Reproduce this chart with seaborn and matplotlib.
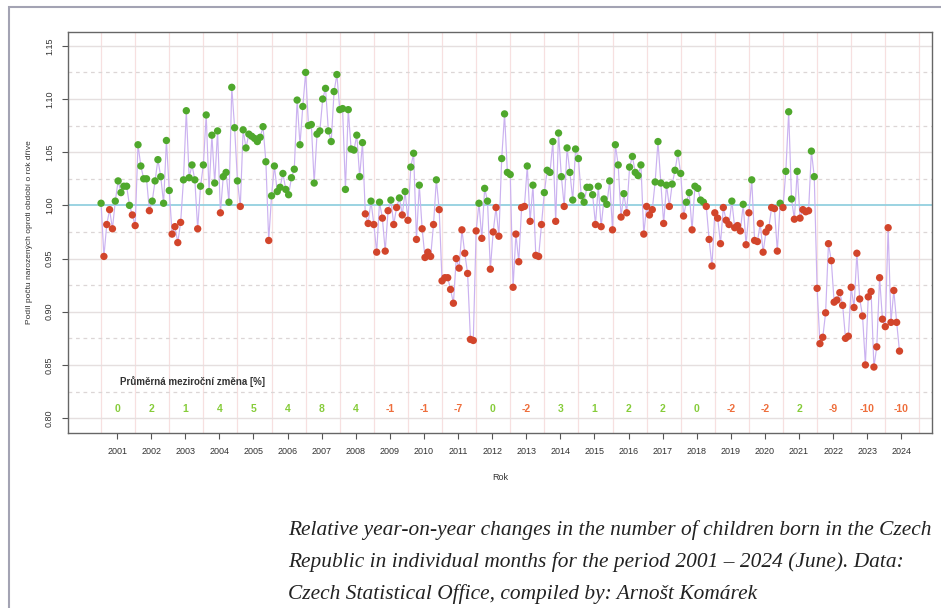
import numpy as np
import pandas as pd
import seaborn as sns
import matplotlib.pyplot as plt
from matplotlib.patches import Rectangle

# mesicni podil poctu narozenych oproti stejnemu mesici o rok drive
y2001 = [1.002, 0.952, 0.982, 0.996, 0.978, 1.004, 1.023, 1.012, 1.018, 1.018, 1.000, 0.991]
y2002 = [0.981, 1.057, 1.037, 1.025, 1.025, 0.995, 1.004, 1.023, 1.043, 1.027, 1.002, 1.061]
y2003 = [1.014, 0.973, 0.980, 0.965, 0.984, 1.024, 1.089, 1.026, 1.038, 1.024, 0.978, 1.018]
y2004 = [1.038, 1.085, 1.013, 1.066, 1.021, 1.070, 0.993, 1.027, 1.031, 1.003, 1.111, 1.073]
y2005 = [1.023, 0.999, 1.071, 1.054, 1.067, 1.065, 1.063, 1.060, 1.064, 1.074, 1.041, 0.967]
y2006 = [1.009, 1.037, 1.013, 1.017, 1.030, 1.015, 1.010, 1.026, 1.034, 1.099, 1.057, 1.093]
y2007 = [1.125, 1.075, 1.076, 1.021, 1.067, 1.070, 1.100, 1.110, 1.070, 1.060, 1.107, 1.123]
y2008 = [1.090, 1.091, 1.015, 1.090, 1.053, 1.052, 1.066, 1.027, 1.059, 0.992, 0.983, 1.004]
y2009 = [0.982, 0.956, 1.003, 0.988, 0.957, 0.995, 1.005, 0.982, 0.998, 1.007, 0.991, 1.013]
y2010 = [0.986, 1.036, 1.049, 0.968, 1.019, 0.978, 0.951, 0.956, 0.952, 0.982, 1.024, 0.996]
y2011 = [0.929, 0.932, 0.932, 0.921, 0.908, 0.950, 0.941, 0.977, 0.955, 0.936, 0.874, 0.873]
y2012 = [0.976, 1.002, 0.969, 1.016, 1.004, 0.940, 0.975, 0.998, 0.971, 1.044, 1.086, 1.031]
y2013 = [1.029, 0.923, 0.973, 0.947, 0.998, 0.999, 1.037, 0.985, 1.019, 0.953, 0.952, 0.982]
y2014 = [1.012, 1.033, 1.031, 1.060, 0.985, 1.068, 1.027, 0.999, 1.054, 1.031, 1.005, 1.053]
y2015 = [1.044, 1.009, 1.003, 1.017, 1.017, 1.010, 0.982, 1.018, 0.980, 1.006, 1.001, 1.023]
y2016 = [0.977, 1.057, 1.038, 0.989, 1.011, 0.993, 1.036, 1.046, 1.031, 1.028, 1.038, 0.973]
y2017 = [0.999, 0.991, 0.996, 1.022, 1.060, 1.021, 0.983, 1.019, 0.999, 1.020, 1.033, 1.049]
y2018 = [1.030, 0.990, 1.003, 1.012, 0.977, 1.018, 1.016, 1.005, 1.003, 0.999, 0.968, 0.943]
y2019 = [0.993, 0.988, 0.964, 0.998, 0.986, 0.982, 1.004, 0.979, 0.981, 0.976, 1.001, 0.963]
y2020 = [0.993, 1.024, 0.967, 0.966, 0.983, 0.956, 0.975, 0.979, 0.998, 0.997, 0.957, 1.002]
y2021 = [0.998, 1.032, 1.088, 1.006, 0.987, 1.032, 0.988, 0.996, 0.994, 0.995, 1.051, 1.027]
y2022 = [0.922, 0.870, 0.876, 0.899, 0.964, 0.948, 0.909, 0.911, 0.918, 0.906, 0.875, 0.877]
y2023 = [0.923, 0.904, 0.955, 0.912, 0.896, 0.850, 0.914, 0.919, 0.848, 0.867, 0.932, 0.893]
y2024 = [0.886, 0.979, 0.890, 0.920, 0.890, 0.863]

years = list(range(2001, 2025))
avg_change = [0, 2, 1, 4, 5, 4, 8, 4, -1, -1, -7, 0, -2, 3, 1, 2, 2, 0, -2, -2, 2, -9, -10, -10]
ytick_vals = [0.80, 0.85, 0.90, 0.95, 1.00, 1.05, 1.10, 1.15]

values = (y2001 + y2002 + y2003 + y2004 + y2005 + y2006 + y2007 + y2008 + y2009 + y2010 + y2011 + y2012
          + y2013 + y2014 + y2015 + y2016 + y2017 + y2018 + y2019 + y2020 + y2021 + y2022 + y2023 + y2024)
df = pd.DataFrame({'podil': values})
df['cas'] = 2001 + np.arange(len(df)) / 12
df['smer'] = np.where(df.podil >= 1, 'up', 'down')

sns.set_theme(style='white')
plt.rcParams['font.family'] = ['Liberation Sans', 'DejaVu Sans']

fig = plt.figure(figsize=(9.41, 6.08), dpi=100)
ax = fig.add_axes([68/941, 1 - 433/608, (932 - 68)/941, (433 - 32)/608])

# mrizka jako v R
for yr in range(2001, 2026):
    ax.axvline(yr, color='#f7e0e0', lw=0.9, zorder=0)
for v in ytick_vals:
    if v != 1.00:
        ax.axhline(v, color='#e5dfdf', lw=1.0, zorder=0)
for v in np.arange(0.825, 1.15, 0.05):
    ax.axhline(v, color='#dcd6d6', lw=0.9, ls=(0, (3, 3)), zorder=0)
ax.axhline(1.0, color='#93d0df', lw=1.3, zorder=1)

sns.lineplot(data=df, x='cas', y='podil', color='#cbb2f0', lw=0.85, ax=ax, zorder=2)
sns.scatterplot(data=df, x='cas', y='podil', hue='smer', palette={'up': '#4fa82c', 'down': '#d2452b'},
                s=28, edgecolor='none', legend=False, ax=ax, zorder=3)

ax.text(2001.56, 0.831, 'Průměrná meziroční změna [%]', fontsize=7, fontweight='bold', color='#333333')
for yr, ch in zip(years, avg_change):
    ax.text(yr + 0.47, 0.809, str(ch), ha='center', va='center', fontsize=7.5, fontweight='bold',
            color='#86cc3a' if ch >= 0 else '#ee6e3c')

ax.set_xlim(2000.03, 2025.37)
ax.set_ylim(0.786, 1.163)
ax.set_xticks([yr + 0.47 for yr in years])
ax.set_xticklabels([str(yr) for yr in years], fontsize=6.5, color='#333333')
ax.set_yticks(ytick_vals)
ax.set_yticklabels(['%.2f' % v for v in ytick_vals], fontsize=6.5, rotation=90, va='center', color='#333333')
ax.tick_params(axis='both', length=4, width=0.8, color='#555555', direction='out',
               bottom=True, left=True, pad=6)
ax.set_xlabel('Rok', fontsize=6.5, labelpad=12, color='#333333')
ax.set_ylabel('Podíl počtu narozených oproti období o rok dříve', fontsize=6, labelpad=9, color='#333333')
for sp in ax.spines.values():
    sp.set_color('#666666')
    sp.set_linewidth(1.0)

# ramecek kolem obrazku a popisek
fig.patches.append(Rectangle((9/941, -0.05), 1.1, 1 - 7/608 + 0.05, transform=fig.transFigure,
                             fill=False, edgecolor='#a3a3b3', lw=1.5, clip_on=False))
caption = ['Relative year-on-year changes in the number of children born in the Czech',
           'Republic in individual months for the period 2001 – 2024 (June). Data:',
           'Czech Statistical Office, compiled by: Arnošt Komárek']
for i, line in enumerate(caption):
    fig.text(288/941, 1 - (530 + 32 * i)/608, line, fontsize=15.4, style='italic',
             family=['Liberation Serif', 'DejaVu Serif'], color='#222222', va='center')

fig.savefig('out.png', dpi=100)
